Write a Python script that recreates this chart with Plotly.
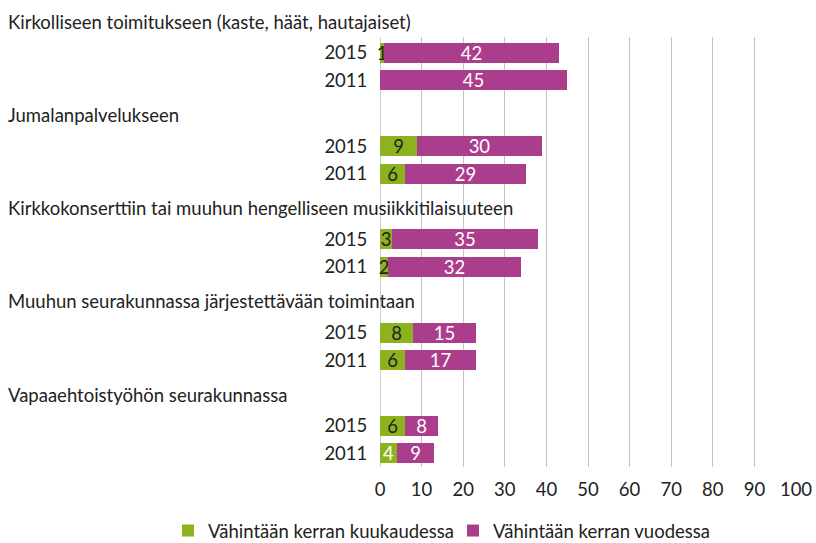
import plotly.graph_objects as go

groups = [
    "Kirkolliseen toimitukseen (kaste, häät, hautajaiset)",
    "Jumalanpalvelukseen",
    "Kirkkokonserttiin tai muuhun hengelliseen musiikkitilaisuuteen",
    "Muuhun seurakunnassa järjestettävään toimintaan",
    "Vapaaehtoistyöhön seurakunnassa",
]
years = ["2015", "2011"]
monthly = [[1, 0], [9, 6], [3, 2], [8, 6], [6, 4]]
yearly = [[42, 45], [30, 29], [35, 32], [15, 17], [8, 9]]
series_names = ["Vähintään kerran kuukaudessa", "Vähintään kerran vuodessa"]

GREEN = "#8cb31e"
MAGENTA = "#ab3e8c"
FONT = "Lato"
FS = 18.5
TXT = "#222222"

group_step = 3.39
ypos, tickt, m_vals, y_vals, m_txt, m_col = [], [], [], [], [], []
for g in range(len(groups)):
    for r, yr in enumerate(years):
        ypos.append(g * group_step + r)
        tickt.append(yr)
        m_vals.append(monthly[g][r])
        y_vals.append(yearly[g][r])
        m_txt.append(str(monthly[g][r]) if monthly[g][r] > 0 else "")
        m_col.append("white" if (yr == "2011" and g == 4) else TXT)

W, H = 816, 543
plot_left, plot_right = 380, 796
plot_top, plot_bottom = 37, 467
pw = plot_right - plot_left
ph = plot_bottom - plot_top
y_range = [15.06, -0.58]
legend_y = -(531 - plot_bottom) / ph

fig = go.Figure()
fig.add_trace(go.Bar(
    y=ypos, x=m_vals, orientation="h", name=series_names[0],
    marker=dict(color=GREEN, line=dict(width=0)), width=0.73,
    text=m_txt, textposition="inside", insidetextanchor="middle", textangle=0,
    textfont=dict(family=FONT, size=FS, color=m_col), constraintext="none",
    cliponaxis=False, hoverinfo="x+name", legend="legend", showlegend=True,
))
fig.add_trace(go.Bar(
    y=ypos, x=y_vals, orientation="h", name=series_names[1],
    marker=dict(color=MAGENTA, line=dict(width=0)), width=0.73,
    text=[str(v) for v in y_vals], textposition="inside", insidetextanchor="middle",
    textangle=0, textfont=dict(family=FONT, size=FS, color="white"), constraintext="none",
    cliponaxis=False, hoverinfo="x+name", legend="legend2", showlegend=True,
))


def y_to_paper(v):
    return (y_range[0] - v) / (y_range[0] - y_range[1])


for g, name in enumerate(groups):
    fig.add_annotation(
        text=name, xref="paper", x=(6 - plot_left) / pw, xanchor="left",
        yref="paper", y=y_to_paper(g * group_step - 1.13), yanchor="middle",
        showarrow=False, font=dict(family=FONT, size=FS, color=TXT),
    )

legend_common = dict(orientation="h", xanchor="left", y=legend_y, yanchor="middle",
                     font=dict(family=FONT, size=FS, color=TXT),
                     bgcolor="rgba(0,0,0,0)", visible=True)

fig.update_layout(
    width=W, height=H,
    showlegend=True,
    margin=dict(l=plot_left, r=W - plot_right, t=plot_top, b=H - plot_bottom, pad=0,
                autoexpand=False),
    barmode="stack",
    plot_bgcolor="white", paper_bgcolor="white",
    font=dict(family=FONT, size=FS, color=TXT),
    uniformtext=dict(minsize=FS, mode="show"),
    xaxis=dict(range=[0, 100], dtick=10, tick0=0, showgrid=True, gridcolor="#c3c3c3",
               gridwidth=1, zeroline=False, showline=False, ticks="outside",
               ticklen=6, tickcolor="rgba(0,0,0,0)", automargin=False,
               tickfont=dict(family=FONT, size=FS, color=TXT), fixedrange=True),
    yaxis=dict(range=y_range, tickmode="array", tickvals=ypos, ticktext=tickt,
               showgrid=False, zeroline=False, showline=False, ticks="outside",
               ticklen=8, tickcolor="rgba(0,0,0,0)", automargin=False,
               tickfont=dict(family=FONT, size=FS, color=TXT), fixedrange=True),
    legend=dict(x=(168 - plot_left) / pw, **legend_common),
    legend2=dict(x=(453 - plot_left) / pw, **legend_common),
    bargap=0,
)
fig.add_shape(type="line", xref="x", yref="paper", x0=0, x1=0, y0=0, y1=1,
              line=dict(color="#a0a0a0", width=1), layer="below")

fig.write_html("out.html", config={"displayModeBar": False},
               post_script="document.body.style.margin='0';"
               "document.body.style.overflow='hidden';")
